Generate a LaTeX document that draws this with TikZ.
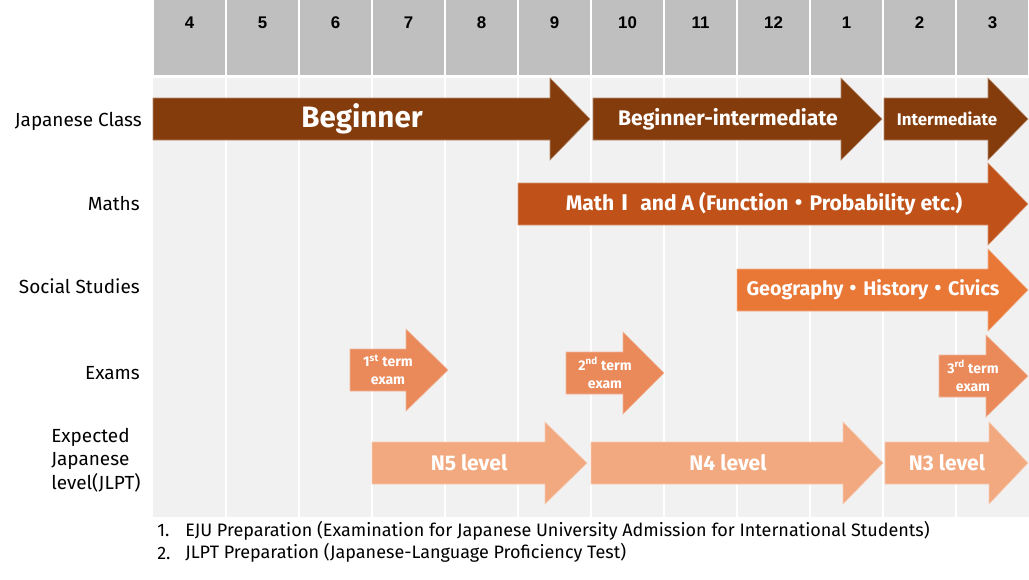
\documentclass[tikz,border=0pt]{standalone}
\usepackage{fontspec}
\setmainfont{Fira Sans}
\newfontfamily\numfont{Liberation Sans}
\newfontfamily\cjk{Noto Sans CJK JP}
\usetikzlibrary{positioning}
\definecolor{hdrgray}{RGB}{191,191,191}
\definecolor{gridbg}{RGB}{241,241,241}
\definecolor{jpbrown}{RGB}{132,60,12}
\definecolor{mathorange}{RGB}{192,81,24}
\definecolor{socorange}{RGB}{233,120,55}
\definecolor{examorange}{RGB}{234,137,90}
\definecolor{jlptpeach}{RGB}{242,169,127}
% timeline arrow: colour, start x, head base x, tip x, mid y
\newcommand{\planarrow}[5]{%
  \fill[#1, draw=#1!60!white, line width=0.4pt]
    (#2,#5-21) -- (#3,#5-21) -- (#3,#5-41) -- (#4,#5)
    -- (#3,#5+41) -- (#3,#5+21) -- (#2,#5+21) -- cycle;}

\begin{document}
\begin{tikzpicture}[
    x=0.025cm, y=-0.025cm,
    monthlbl/.style={font=\numfont\bfseries\fontsize{12}{14}\selectfont},
    rowlbl/.style={anchor=east, inner sep=0pt, font=\fontsize{13.5}{16}\selectfont},
    barlbl/.style={text=white, inner sep=0pt, font=\bfseries\fontsize{15}{17}\selectfont},
    examlbl/.style={text=white, inner sep=0pt, align=center,
                    font=\bfseries\fontsize{10}{13}\selectfont},
    notelbl/.style={anchor=west, inner sep=0pt, font=\fontsize{12.8}{15}\selectfont},
  ]
    \useasboundingbox[fill=white] (0,0) rectangle (1029,579);

    % month header
    \foreach \m [count=\i from 0] in {4,5,6,7,8,9,10,11,12,1,2,3} {
      \fill[hdrgray] (153+73*\i+1,0) rectangle (153+73*\i+72,75);
      \node[monthlbl] (m\i) at (153+73*\i+36.5,23) {\m};
    }

    % grid body
    \fill[gridbg] (153,78) rectangle (1029,517);
    \foreach \k in {1,...,11}
      \draw[white, line width=1pt] (153+73*\k,78) -- (153+73*\k,517);

    % row labels
    \node[rowlbl] (lclass) at (142,121) {Japanese Class};
    \node[rowlbl] (lmath) at (140,204) {Maths};
    \node[rowlbl] (lsoc) at (140,286) {Social Studies};
    \node[rowlbl] (lexam) at (140,373) {Exams};
    \node[anchor=west, align=left, inner sep=0pt,
          font=\fontsize{13.5}{16.8}\selectfont] (llevel) at (51,460)
      {Expected\\Japanese\\level(JLPT)};

    % Japanese class
    \planarrow{jpbrown}{153}{550}{590}{119}
    \planarrow{jpbrown}{593}{841}{882}{119}
    \planarrow{jpbrown}{884}{988}{1028}{119}
    \node[barlbl, font=\bfseries\fontsize{21}{24}\selectfont] (tbeg) at (362,119) {Beginner};
    \node[barlbl] (tbint) at (728,119) {Beginner-intermediate};
    \node[barlbl, font=\bfseries\fontsize{12}{14}\selectfont] (tint) at (947,119) {Intermediate};

    % Maths and social studies
    \planarrow{mathorange}{518}{988}{1028}{204}
    \node[barlbl] (tmath) at (764,204)
      {Math{\cjk Ⅰ} and A (Function{\cjk ・}Probability etc.)};
    \planarrow{socorange}{737}{988}{1028}{290}
    \node[barlbl, font=\bfseries\fontsize{14}{16}\selectfont] (tsoc) at (873,290)
      {Geography{\cjk ・}History{\cjk ・}Civics};

    % exams
    \planarrow{examorange}{350}{406}{448}{370}
    \planarrow{examorange}{566}{623}{664}{373}
    \planarrow{examorange}{939}{986}{1028}{376}
    \node[examlbl] (te1) at (388,370) {1\textsuperscript{st} term\\exam};
    \node[examlbl] (te2) at (605,373) {2\textsuperscript{nd} term\\exam};
    \node[examlbl] (te3) at (973,376) {3\textsuperscript{rd} term\\exam};

    % expected JLPT level
    \planarrow{jlptpeach}{372}{545}{587}{463}
    \planarrow{jlptpeach}{591}{843}{883}{463}
    \planarrow{jlptpeach}{885}{989}{1028}{463}
    \node[barlbl] (tn5) at (469,463) {N5 level};
    \node[barlbl] (tn4) at (728,463) {N4 level};
    \node[barlbl] (tn3) at (947,463) {N3 level};

    % notes
    \node[notelbl] (n1) at (157,531) {1.};
    \node[notelbl] (fn1) at (185,531)
      {EJU Preparation (Examination for Japanese University Admission for International Students)};
    \node[notelbl] (n2) at (157,553) {2.};
    \node[notelbl] (fn2) at (185,553)
      {JLPT Preparation (Japanese-Language Proficiency Test)};
  \end{tikzpicture}
\end{document}
